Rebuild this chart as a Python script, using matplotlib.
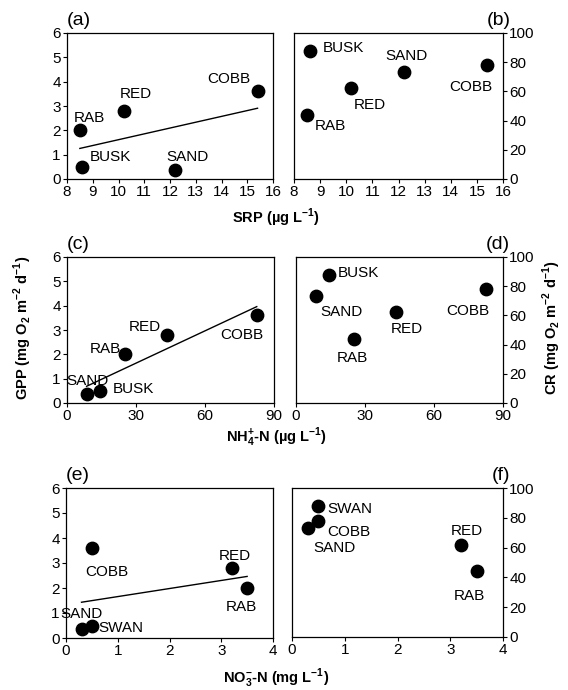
import numpy as np
import matplotlib
matplotlib.use("Agg")
import matplotlib.pyplot as plt

plt.rcParams['font.family'] = ['Liberation Sans', 'DejaVu Sans']
plt.rcParams['mathtext.fontset'] = 'custom'
plt.rcParams['mathtext.rm'] = 'Liberation Sans'
plt.rcParams['mathtext.bf'] = 'Liberation Sans:bold'

# site data
sites = ['BUSK', 'COBB', 'RAB', 'RED', 'SAND']
sites_no3 = ['SWAN', 'COBB', 'RAB', 'RED', 'SAND']
gpp = [0.5, 3.6, 2.0, 2.8, 0.35]
cr = [88, 78, 44, 62, 73]
srp = [8.6, 15.4, 8.5, 10.2, 12.2]
nh4 = [14.5, 82.5, 25, 43.5, 8.5]
no3 = [0.5, 0.5, 3.5, 3.2, 0.3]

# label offsets (points) per panel
offs = {
    'a': {'RAB': (7, 9), 'BUSK': (20, 7), 'RED': (9, 12), 'SAND': (9, 10), 'COBB': (-21, 9)},
    'b': {'BUSK': (24, 2), 'SAND': (2, 12), 'COBB': (-12, -16), 'RED': (13, -12), 'RAB': (17, -8)},
    'c': {'SAND': (1, 10), 'BUSK': (24, 1), 'RAB': (-14, 4), 'RED': (-16, 6), 'COBB': (-11, -14)},
    'd': {'BUSK': (21, 1), 'SAND': (19, -11), 'RAB': (-1, -14), 'RED': (8, -12), 'COBB': (-13, -16)},
    'e': {'COBB': (11, -17), 'RED': (2, 9), 'RAB': (-4, -14), 'SAND': (0, 11), 'SWAN': (21, -2)},
    'f': {'SWAN': (23, -2), 'COBB': (22, -8), 'SAND': (19, -14), 'RED': (4, 10), 'RAB': (-5, -18)},
}

W, H = 568, 690
fig = plt.figure(figsize=(W / 100, H / 100), dpi=100)


def make_ax(l, r, t, b):
    return fig.add_axes([l / W, 1 - b / H, (r - l) / W, (b - t) / H])


def panel(ax, x, y, names, key, xlim, xticks, right=False, fit=False):
    ax.scatter(x, y, s=80, color='black', zorder=3, clip_on=False)
    for xi, yi, n in zip(x, y, names):
        ax.annotate(n, (xi, yi), xytext=offs[key][n], textcoords='offset points',
                    ha='center', va='center', fontsize=11)
    if fit:
        k, c = np.polyfit(x, y, 1)
        xs = np.array([min(x), max(x)])
        ax.plot(xs, k * xs + c, color='black', lw=1)
    ax.set_xlim(xlim)
    ax.set_xticks(xticks)
    if right:
        ax.set_ylim(0, 100)
        ax.set_yticks(range(0, 101, 20))
        ax.yaxis.tick_right()
        ax.text(1.035, 1.03, '(%s)' % key, transform=ax.transAxes, fontsize=14,
                ha='right', va='bottom')
    else:
        ax.set_ylim(0, 6)
        ax.set_yticks(range(0, 7))
        ax.text(0.0, 1.03, '(%s)' % key, transform=ax.transAxes, fontsize=14,
                ha='left', va='bottom')
    ax.tick_params(direction='out', length=3, width=0.8, labelsize=11, pad=1.5)
    for s in ax.spines.values():
        s.set_linewidth(0.9)


pa = make_ax(67, 273, 33, 179)
pb = make_ax(294, 503, 33, 179)
pc = make_ax(67, 274, 257, 403)
pd = make_ax(296, 503, 257, 403)
pe = make_ax(66, 273, 488, 638)
pf = make_ax(292, 503, 488, 637)

srp_ticks = range(8, 17)
panel(pa, srp, gpp, sites, 'a', (8, 16), srp_ticks, fit=True)
panel(pb, srp, cr, sites, 'b', (8, 16), srp_ticks, right=True)
panel(pc, nh4, gpp, sites, 'c', (0, 90), [0, 30, 60, 90], fit=True)
panel(pd, nh4, cr, sites, 'd', (0, 90), [0, 30, 60, 90], right=True)
panel(pe, no3, gpp, sites_no3, 'e', (0, 4), range(0, 5), fit=True)
panel(pf, no3, cr, sites_no3, 'f', (0, 4), range(0, 5), right=True)

fig.text(276 / W, 1 - 218 / H, r'SRP (µg L$^{\mathbf{-1}}$)', ha='center', va='center',
         fontsize=10.5, fontweight='bold')
fig.text(276 / W, 1 - 437 / H, r'NH$_{\mathbf{4}}^{\mathbf{+}}$-N (µg L$^{\mathbf{-1}}$)',
         ha='center', va='center', fontsize=10.5, fontweight='bold')
fig.text(276 / W, 1 - 678 / H, r'NO$_{\mathbf{3}}^{\mathbf{-}}$-N (mg L$^{\mathbf{-1}}$)',
         ha='center', va='center', fontsize=10.5, fontweight='bold')
fig.text(23 / W, 1 - 328 / H, r'GPP (mg O$_{\mathbf{2}}$ m$^{\mathbf{-2}}$ d$^{\mathbf{-1}}$)',
         ha='center', va='center', rotation=90, fontsize=10.5, fontweight='bold')
fig.text(552 / W, 1 - 328 / H, r'CR (mg O$_{\mathbf{2}}$ m$^{\mathbf{-2}}$ d$^{\mathbf{-1}}$)',
         ha='center', va='center', rotation=90, fontsize=10.5, fontweight='bold')

fig.savefig('out.png', dpi=100)
